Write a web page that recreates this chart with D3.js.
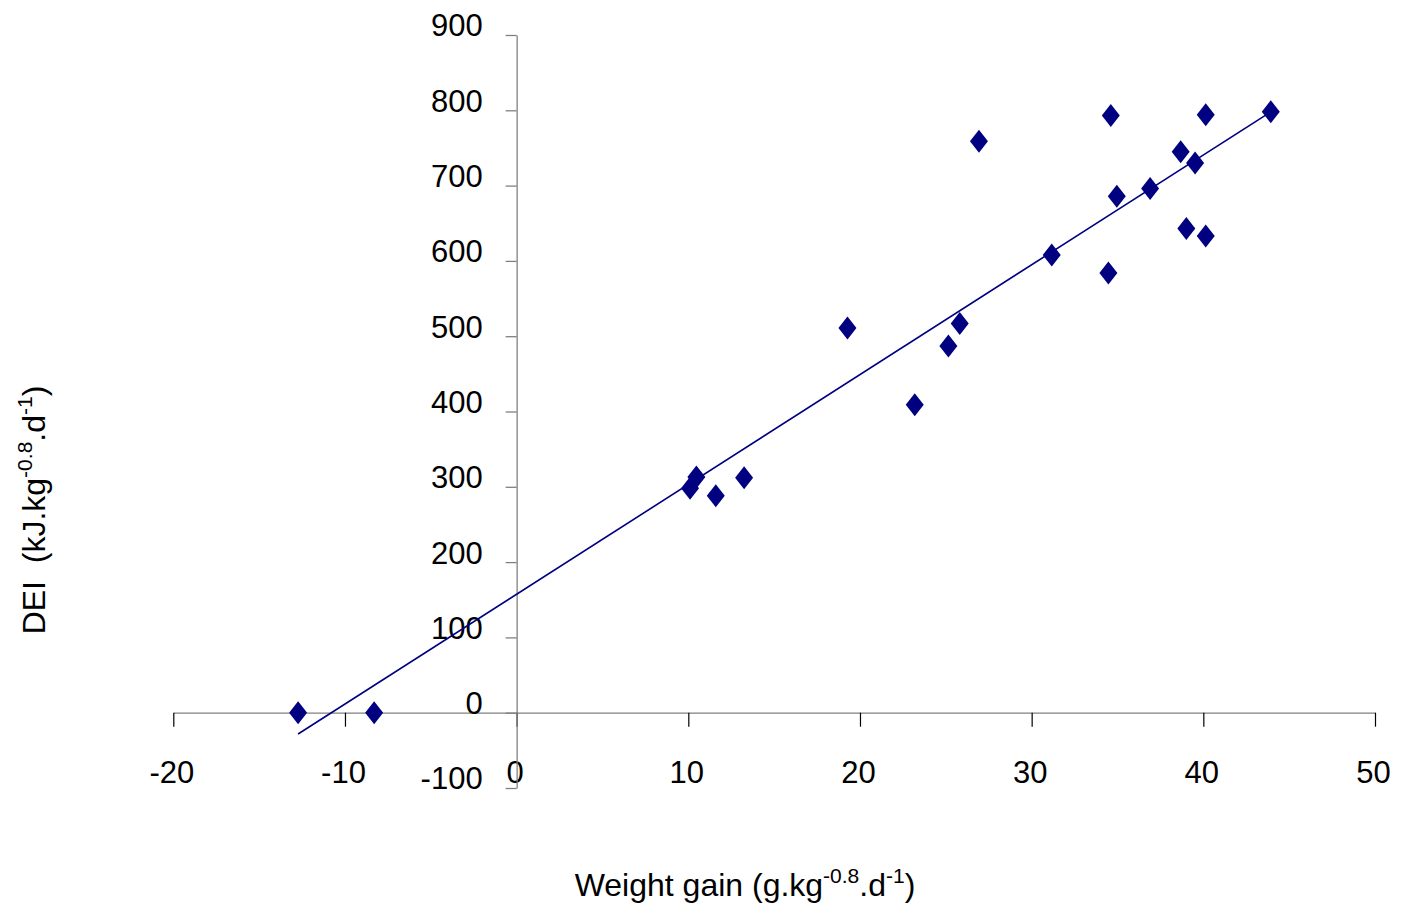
<!DOCTYPE html>
<html>
<head>
<meta charset="utf-8">
<script src="https://cdn.jsdelivr.net/npm/d3@7"></script>
<style>
  html, body { margin: 0; padding: 0; background: #fff; }
  svg { display: block; font-family: "Liberation Sans", Arial, sans-serif; }
</style>
</head>
<body>
<svg id="chart" width="1401" height="907"></svg>
<script>
// Data
const weightGain = [-12.73, -8.30, 10.10, 10.47, 11.60, 13.25, 19.27, 23.19, 25.15, 25.81, 26.93,
                    31.17, 34.47, 34.61, 34.96, 36.90, 38.68, 39.01, 39.52, 40.14, 40.14, 43.93];
const dei        = [0, 0, 298, 313, 288, 312, 511, 409, 487, 517, 759,
                    608, 584, 793, 686, 696, 745, 643, 730, 794, 633, 798];
const trendX = [-12.73, 43.93];
const trendY = [-28.3, 798];
const xTicks = [-20, -10, 0, 10, 20, 30, 40, 50];
const yTicks = [-100, 0, 100, 200, 300, 400, 500, 600, 700, 800, 900];

const svg = d3.select("#chart");
const x = d3.scaleLinear().domain([-20, 50]).range([173.3, 1375]);
const y = d3.scaleLinear().domain([-100, 900]).range([788, 35]);

const FS = 31;
const TFS = 32;
const SFS = 21;
const navy = "#000080";
const fmt = d => String(d);

// X axis (at y = 0)
const xAxis = d3.axisBottom(x).tickValues(xTicks).tickSize(14).tickSizeOuter(0).tickPadding(34)
  .tickFormat(fmt);
const gx = svg.append("g").attr("transform", `translate(0,${y(0)})`).call(xAxis);
gx.select(".domain").attr("stroke", "#808080").attr("stroke-width", 1.3);
gx.selectAll(".tick line").attr("stroke", "#000").attr("stroke-width", 1.2);
gx.selectAll(".tick text").attr("font-size", FS).attr("fill", "#000")
  .attr("font-family", "Liberation Sans, Arial, sans-serif").attr("dx", -2);

// Y axis (at x = 0)
const yAxis = d3.axisLeft(y).tickValues(yTicks).tickSize(11).tickSizeOuter(0).tickPadding(23)
  .tickFormat(fmt);
const gy = svg.append("g").attr("transform", `translate(${x(0)},0)`).call(yAxis);
gy.select(".domain").attr("stroke", "#808080").attr("stroke-width", 1.3);
gy.selectAll(".tick line").attr("stroke", "#808080").attr("stroke-width", 1.3);
gy.selectAll(".tick text").attr("font-size", FS).attr("fill", "#000")
  .attr("font-family", "Liberation Sans, Arial, sans-serif").attr("y", -9);

// Trend line
const pts = trendX.map((d, i) => [d, trendY[i]]);
svg.append("path")
  .datum(pts)
  .attr("d", d3.line().x(d => x(d[0])).y(d => y(d[1])))
  .attr("stroke", navy).attr("stroke-width", 1.6).attr("fill", "none");

// Diamond markers
const data = weightGain.map((d, i) => ({ x: d, y: dei[i] }));
svg.append("g").selectAll("path").data(data).join("path")
  .attr("transform", d => `translate(${x(d.x)},${y(d.y)})`)
  .attr("d", "M0,-11.5 L9,0 L0,11.5 L-9,0 Z")
  .attr("fill", navy);

// X title
const xt = svg.append("text").attr("x", 745).attr("y", 896).attr("text-anchor", "middle")
  .attr("font-size", TFS).attr("fill", "#000");
xt.append("tspan").text("Weight gain (g.kg");
xt.append("tspan").attr("font-size", SFS).attr("dy", -13).text("-0.8");
xt.append("tspan").attr("dy", 13).text(".d");
xt.append("tspan").attr("font-size", SFS).attr("dy", -13).text("-1");
xt.append("tspan").attr("dy", 13).text(")");

// Y title
const yt = svg.append("text").attr("transform", "translate(45,510) rotate(-90)")
  .attr("text-anchor", "middle").attr("font-size", TFS).attr("fill", "#000");
yt.append("tspan").text("DEI\u00A0\u00A0(kJ.kg");
yt.append("tspan").attr("font-size", SFS).attr("dy", -13).text("-0.8");
yt.append("tspan").attr("dy", 13).text(".d");
yt.append("tspan").attr("font-size", SFS).attr("dy", -13).text("-1");
yt.append("tspan").attr("dy", 13).text(")");
</script>
</body>
</html>
